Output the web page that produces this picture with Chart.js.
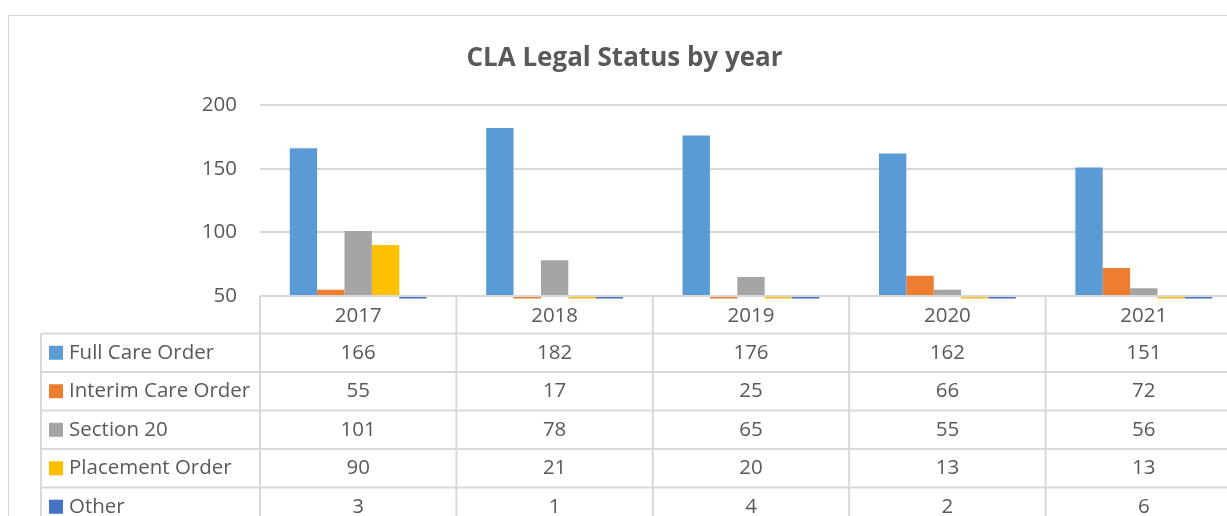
<!DOCTYPE html>
<html><head><meta charset="utf-8">
<script src="https://cdn.jsdelivr.net/npm/chart.js@4/dist/chart.umd.min.js"></script>
<style>html,body{margin:0;padding:0;overflow:hidden;background:#fff}canvas{display:block}</style>
</head><body>
<canvas id="c" width="1242" height="530"></canvas>
<script>
const chartTitle = "CLA Legal Status by year";
const years = ["2017", "2018", "2019", "2020", "2021"];
const seriesNames = ["Full Care Order", "Interim Care Order", "Section 20", "Placement Order", "Other"];
const fullCareOrder = [166, 182, 176, 162, 151];
const interimCareOrder = [55, 17, 25, 66, 72];
const section20 = [101, 78, 65, 55, 56];
const placementOrder = [90, 21, 20, 13, 13];
const other = [3, 1, 4, 2, 6];
const yTicks = [50, 100, 150, 200];
const seriesColors = ["#5B9BD5", "#ED7D31", "#A5A5A5", "#FFC000", "#4472C4"];

const seriesValues = [fullCareOrder, interimCareOrder, section20, placementOrder, other];
const FONT = "'Open Sans', 'Noto Sans', sans-serif";
const TEXT = "#595959";
const LINE = "#D9D9D9";

Chart.defaults.font.family = FONT;
Chart.defaults.color = TEXT;

const tablePlugin = {
  id: 'excelTable',
  afterDatasetsDraw(chart) {
    const ctx = chart.ctx, area = chart.chartArea, ys = chart.scales.y;
    ctx.save();
    chart.data.datasets.forEach((ds, i) => {
      const meta = chart.getDatasetMeta(i);
      meta.data.forEach((el, j) => {
        if (ds.data[j] < ys.min) {
          ctx.fillStyle = ds.backgroundColor;
          ctx.fillRect(el.x - el.width / 2, area.bottom + 1, el.width, 1.5);
        }
      });
    });
    ctx.restore();
  },
  afterDraw(chart) {
    const ctx = chart.ctx, area = chart.chartArea;
    const W = chart.width, H = chart.height;
    ctx.save();
    ctx.strokeStyle = LINE; ctx.lineWidth = 1;
    ctx.strokeRect(8.5, 15.5, W - 1, H);
    ctx.fillStyle = TEXT;
    ctx.font = "bold 26px " + FONT;
    ctx.textAlign = 'center'; ctx.textBaseline = 'middle';
    ctx.fillText(chartTitle, 624.5, 59);

    const n = years.length;
    const colW = (area.right - area.left) / n;
    const top = area.bottom;
    const headerH = 37.5, rowH = 38.5;
    const legendLeft = 41;
    const rowsBottom = top + headerH + rowH * seriesNames.length;

    ctx.strokeStyle = LINE; ctx.lineWidth = 2;
    ctx.beginPath();
    ctx.moveTo(area.left, top); ctx.lineTo(W, top);
    for (let r = 0; r <= seriesNames.length; r++) {
      const y = top + headerH + r * rowH;
      ctx.moveTo(legendLeft, y); ctx.lineTo(W, y);
    }
    ctx.moveTo(legendLeft, top + headerH); ctx.lineTo(legendLeft, rowsBottom);
    for (let c = 0; c <= n; c++) {
      const x = area.left + c * colW;
      ctx.moveTo(x, top); ctx.lineTo(x, rowsBottom);
    }
    ctx.stroke();

    ctx.font = "20.5px " + FONT;
    ctx.fillStyle = TEXT;
    ctx.textAlign = 'center'; ctx.textBaseline = 'middle';
    years.forEach((yr, c) => {
      ctx.fillText(yr, area.left + (c + 0.5) * colW, top + headerH / 2 + 1);
    });
    seriesNames.forEach((name, r) => {
      const cy = top + headerH + (r + 0.5) * rowH;
      ctx.fillStyle = seriesColors[r];
      ctx.fillRect(49, cy - 7, 14, 14);
      ctx.fillStyle = TEXT;
      ctx.textAlign = 'left';
      ctx.fillText(name, 69, cy);
      ctx.textAlign = 'center';
      seriesValues[r].forEach((v, c) => {
        ctx.fillText(String(v), area.left + (c + 0.5) * colW, cy);
      });
    });
    ctx.restore();
  }
};

new Chart(document.getElementById('c'), {
  type: 'bar',
  data: {
    labels: years,
    datasets: seriesNames.map((name, i) => ({
      label: name,
      data: seriesValues[i],
      backgroundColor: seriesColors[i],
      borderWidth: 0,
      categoryPercentage: 0.697,
      barPercentage: 1
    }))
  },
  options: {
    responsive: false,
    animation: false,
    layout: { padding: { top: 105, bottom: 234, left: 0, right: 0 } },
    plugins: { legend: { display: false }, title: { display: false }, tooltip: { enabled: false } },
    scales: {
      x: { display: false },
      y: {
        min: 50, max: 200,
        afterBuildTicks: s => { s.ticks = yTicks.map(v => ({ value: v })); },
        afterFit: s => { s.width = 260; },
        border: { display: false },
        grid: { color: LINE, lineWidth: 2, drawTicks: false },
        ticks: { padding: 23, color: TEXT, font: { size: 20.5, family: FONT } }
      }
    }
  },
  plugins: [tablePlugin]
});
</script>
</body></html>
